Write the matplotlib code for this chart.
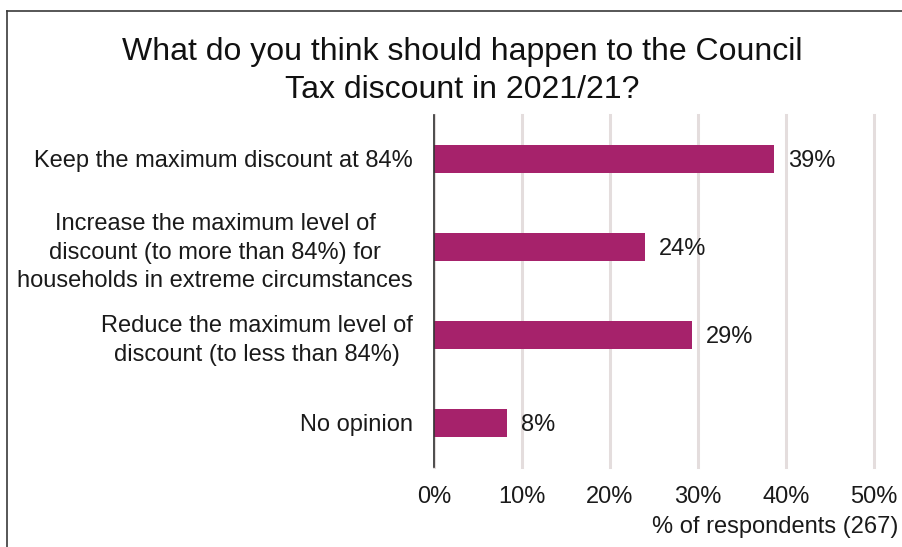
import matplotlib.pyplot as plt
from matplotlib.lines import Line2D

plt.rcParams["font.family"] = ["Liberation Sans", "DejaVu Sans"]

respostas = [
    "Keep the maximum discount at 84%",
    "Increase the maximum level of\ndiscount (to more than 84%) for\nhouseholds in extreme circumstances",
    "Reduce the maximum level of\ndiscount (to less than 84%)",
    "No opinion",
]
percentuais = [38.6, 24.0, 29.3, 8.3]
rotulos = ["39%", "24%", "29%", "8%"]
ticks_x = [0, 10, 20, 30, 40, 50]

fig = plt.figure(figsize=(9.02, 5.47), dpi=100)
ax = fig.add_axes([434 / 902, 1 - 467 / 547, 440 / 902, 352 / 547])

pos = list(range(len(respostas)))
ax.barh(pos, percentuais, height=0.31, color="#A6226B", zorder=3)
for p, v, r in zip(pos, percentuais, rotulos):
    ax.text(v + 1.6, p + 0.02, r, va="center", ha="left", fontsize=17, color="#1a1a1a")

ax.set_xlim(0, 50)
ax.set_ylim(3.5, -0.5)
ax.set_xticks(ticks_x)
ax.set_xticklabels([f"{t}%" for t in ticks_x], fontsize=17, color="#1a1a1a")
ax.set_yticks(pos)
ax.set_yticklabels(respostas, fontsize=17, color="#1a1a1a", ha="right",
                   multialignment="center", linespacing=1.36)
ax.tick_params(axis="y", length=0, pad=15)
ax.tick_params(axis="x", length=0, pad=14)
ax.grid(axis="x", color="#E4DDDD", linewidth=2.2, zorder=0)
for gl in ax.get_xgridlines():
    gl.set_clip_on(False)

for lado in ["top", "right", "bottom"]:
    ax.spines[lado].set_visible(False)
ax.spines["left"].set_color("#333333")
ax.spines["left"].set_linewidth(1.2)
ax.spines["left"].set_zorder(4)

fig.text(462 / 902, 1 - 71 / 547,
         "What do you think should happen to the Council\nTax discount in 2021/21?",
         ha="center", va="center", fontsize=23, color="#111111", linespacing=1.38)
fig.text(898 / 902, 1 - 527 / 547, "% of respondents (267)", ha="right",
         va="center", fontsize=17, color="#1a1a1a")

# moldura do gráfico (só topo e esquerda aparecem no recorte)
fig.add_artist(Line2D([7 / 902, 7 / 902], [0, 1 - 11 / 547], color="#3a3a3a", lw=1.2))
fig.add_artist(Line2D([7 / 902, 1], [1 - 11 / 547, 1 - 11 / 547], color="#3a3a3a", lw=1.2))

plt.savefig("out.png", dpi=100)
plt.close()
